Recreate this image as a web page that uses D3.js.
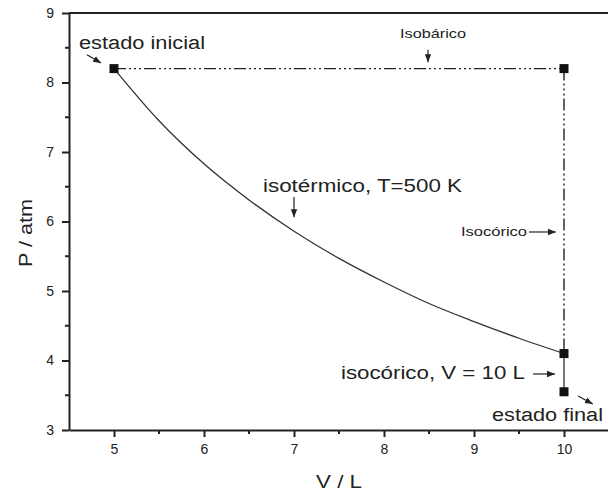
<!DOCTYPE html>
<html>
<head>
<meta charset="utf-8">
<script src="https://cdn.jsdelivr.net/npm/d3@7"></script>
<style>
  body { margin: 0; background: #fff; }
  svg text { font-family: "Liberation Sans", Arial, sans-serif; fill: #222; }
</style>
</head>
<body>
<div id="chart"></div>
<script>
// state points (V / L, P / atm)
var statePoints = [[5, 8.2], [10, 8.2], [10, 4.1], [10, 3.55]];
var isobaric = [[5, 8.2], [10, 8.2]];
var isochoric = [[10, 8.2], [10, 4.1]];
var isochoricFinal = [[10, 4.1], [10, 3.55]];
// isotherm, T = 500 K
var isothermV = [5, 5.5, 6, 6.5, 7, 7.5, 8, 8.5, 9, 9.5, 10];
var isothermP = [8.2, 7.45, 6.83, 6.31, 5.86, 5.47, 5.13, 4.82, 4.56, 4.32, 4.1];

var xTicks = [5, 6, 7, 8, 9, 10];
var yTicks = [3, 4, 5, 6, 7, 8, 9];

// labels: text, x, y (data units), font size, width
var labels = [
  { text: "estado inicial", x: 4.611, y: 8.48, size: 18, len: 126 },
  { text: "Isobárico", x: 8.178, y: 8.64, size: 13, len: 66 },
  { text: "isotérmico, T=500 K", x: 6.656, y: 6.424, size: 18, len: 199 },
  { text: "Isocórico", x: 8.856, y: 5.79, size: 13, len: 66 },
  { text: "isocórico, V = 10 L", x: 7.522, y: 3.734, size: 18, len: 184 },
  { text: "estado final", x: 9.2, y: 3.13, size: 18, len: 111 }
];
// arrows: from -> to, data units
var arrows = [
  [[4.70, 8.40], [4.856, 8.28]],
  [[8.489, 8.47], [8.489, 8.29]],
  [[7.0, 6.353], [7.0, 6.06]],
  [[9.611, 5.849], [9.91, 5.849]],
  [[9.656, 3.806], [9.90, 3.806]],
  [[10.156, 3.489], [10.32, 3.374]]
];

var width = 608, height = 493;
var svg = d3.select("#chart").append("svg")
  .attr("width", width)
  .attr("height", height);

var x = d3.scaleLinear().domain([4.5, 10.5]).range([69, 609]);
var y = d3.scaleLinear().domain([3, 9]).range([430, 13]);

svg.append("defs").append("marker")
  .attr("id", "head")
  .attr("viewBox", "0 0 10 10")
  .attr("refX", 10).attr("refY", 5)
  .attr("markerWidth", 8).attr("markerHeight", 8)
  .attr("markerUnits", "userSpaceOnUse")
  .attr("orient", "auto")
  .append("path")
  .attr("d", "M0,1 L10,5 L0,9 Z")
  .attr("fill", "#222");

var line = d3.line().x(d => x(d[0])).y(d => y(d[1]));

// isotherm
svg.append("path")
  .datum(isothermV.map((v, i) => [v, isothermP[i]]))
  .attr("d", d3.line().curve(d3.curveMonotoneX).x(d => x(d[0])).y(d => y(d[1])))
  .attr("fill", "none")
  .attr("stroke", "#333")
  .attr("stroke-width", 1.3);

// dash dot dot paths
[isobaric, isochoric].forEach(seg => {
  svg.append("path")
    .datum(seg)
    .attr("d", line)
    .attr("fill", "none")
    .attr("stroke", "#222")
    .attr("stroke-width", 1.4)
    .attr("stroke-dasharray", "12,3,2,3,2,3,2,3");
});

svg.append("path")
  .datum(isochoricFinal)
  .attr("d", line)
  .attr("fill", "none")
  .attr("stroke", "#777")
  .attr("stroke-width", 2);

// axes
var xAxis = d3.axisBottom(x).tickValues(xTicks).tickFormat(d3.format("d"))
  .tickSize(7).tickPadding(7).tickSizeOuter(0);
var gx = svg.append("g").attr("transform", "translate(0," + y(3) + ")").call(xAxis);
var yAxis = d3.axisLeft(y).tickValues(yTicks).tickFormat(d3.format("d"))
  .tickSize(7).tickPadding(8).tickSizeOuter(0);
var gy = svg.append("g").attr("transform", "translate(" + x(4.5) + ",0)").call(yAxis);

[gx, gy].forEach(g => {
  g.select(".domain").attr("stroke", "#222").attr("stroke-width", 2);
  g.selectAll(".tick line").attr("stroke", "#222").attr("stroke-width", 2);
  g.selectAll(".tick text").style("font-size", "14px").attr("fill", "#222");
});

// minor ticks
svg.append("g").selectAll("line")
  .data([5.5, 6.5, 7.5, 8.5, 9.5])
  .join("line")
  .attr("x1", d => x(d)).attr("x2", d => x(d))
  .attr("y1", y(3)).attr("y2", y(3) + 4)
  .attr("stroke", "#222").attr("stroke-width", 2);
svg.append("g").selectAll("line")
  .data([3.5, 4.5, 5.5, 6.5, 7.5, 8.5])
  .join("line")
  .attr("x1", x(4.5)).attr("x2", x(4.5) - 4)
  .attr("y1", d => y(d)).attr("y2", d => y(d))
  .attr("stroke", "#222").attr("stroke-width", 2);

// top and right frame
svg.append("path")
  .attr("d", "M" + x(4.5) + "," + y(9) + "H" + x(10.5) + "V" + y(3))
  .attr("fill", "none")
  .attr("stroke", "#222")
  .attr("stroke-width", 2);

// axis titles
svg.append("text")
  .attr("x", x(7.5)).attr("y", 488)
  .attr("text-anchor", "middle")
  .style("font-size", "19px")
  .attr("textLength", 46)
  .attr("lengthAdjust", "spacingAndGlyphs")
  .text("V / L");

svg.append("text")
  .attr("transform", "translate(32,233) rotate(-90)")
  .attr("text-anchor", "middle")
  .style("font-size", "19px")
  .attr("textLength", 68)
  .attr("lengthAdjust", "spacingAndGlyphs")
  .text("P / atm");

// state markers
svg.append("g").selectAll("rect")
  .data(statePoints)
  .join("rect")
  .attr("x", d => x(d[0]) - 4.5)
  .attr("y", d => y(d[1]) - 4.5)
  .attr("width", 9).attr("height", 9)
  .attr("fill", "#111");

// annotations
svg.append("g").selectAll("text")
  .data(labels)
  .join("text")
  .attr("x", d => x(d.x))
  .attr("y", d => y(d.y))
  .style("font-size", d => d.size + "px")
  .attr("textLength", d => d.len)
  .attr("lengthAdjust", "spacingAndGlyphs")
  .text(d => d.text);

svg.append("g").selectAll("path")
  .data(arrows)
  .join("path")
  .attr("d", line)
  .attr("stroke", "#222")
  .attr("stroke-width", 1.2)
  .attr("marker-end", "url(#head)");
</script>
</body>
</html>
